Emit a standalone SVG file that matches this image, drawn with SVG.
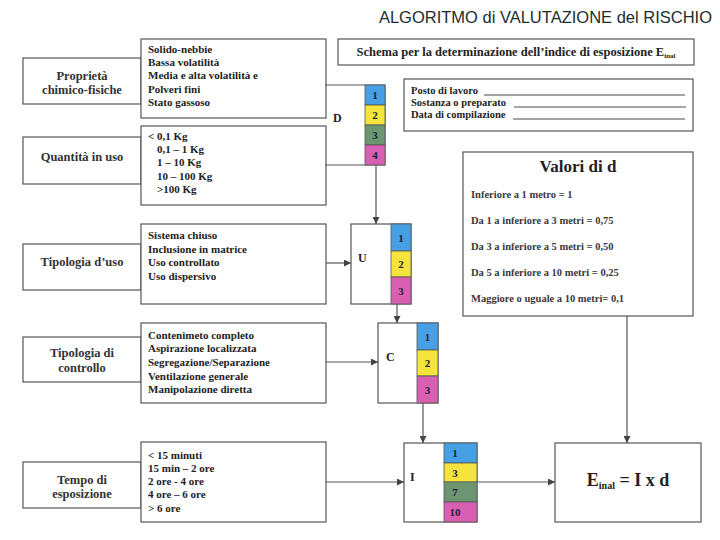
<svg xmlns="http://www.w3.org/2000/svg" width="720" height="540" viewBox="0 0 720 540">
<defs>
<marker id="arr" viewBox="0 0 10 10" refX="10" refY="5" markerWidth="7" markerHeight="7" markerUnits="userSpaceOnUse" orient="auto">
<path d="M0,0 L10,5 L0,10 z" fill="#444"/>
</marker>
<style>
.box{fill:#fff;stroke:#555;stroke-width:1.2}
.conn{stroke:#555;stroke-width:1.2;fill:none;marker-end:url(#arr)}
.t{font-family:"Liberation Serif","Times New Roman",serif;font-weight:bold;fill:#222}
.opt{font-size:11px}
.lab{font-size:12.5px;text-anchor:middle;fill:#333}
.val{font-size:10.5px;fill:#3a3a3a}
.num{font-size:11px;text-anchor:middle;fill:#223}
.blue{fill:#47a0e6;stroke:#555;stroke-width:0.8}
.yel{fill:#f4e43c;stroke:#555;stroke-width:0.8}
.grn{fill:#6c9672;stroke:#555;stroke-width:0.8}
.pnk{fill:#d85fb2;stroke:#555;stroke-width:0.8}
.ul{stroke:#333;stroke-width:0.9}
</style>
</defs>
<rect width="720" height="540" fill="#fff"/>
<text x="712" y="23" text-anchor="end" font-family="'Liberation Sans',Arial,sans-serif" font-size="16.5" fill="#1c2e2e">ALGORITMO di VALUTAZIONE del RISCHIO</text>

<g id="proprieta">
<rect class="box" x="23" y="58" width="118" height="46"/>
<text class="t lab" x="82" y="80">Proprietà</text>
<text class="t lab" x="82" y="94">chimico-fisiche</text>
<rect class="box" x="141" y="39" width="185" height="79"/>
<text class="t opt" x="148" y="53">Solido-nebbie</text>
<text class="t opt" x="148" y="66">Bassa volatilità</text>
<text class="t opt" x="148" y="79">Media e alta volatilità e</text>
<text class="t opt" x="148" y="93">Polveri fini</text>
<text class="t opt" x="148" y="106">Stato gassoso</text>
</g>

<g id="quantita">
<rect class="box" x="23" y="137" width="118" height="47"/>
<text class="t lab" x="82" y="161">Quantità in uso</text>
<rect class="box" x="141" y="126" width="185" height="79"/>
<text class="t opt" x="148" y="140">&lt; 0,1 Kg</text>
<text class="t opt" x="157" y="153">0,1 – 1 Kg</text>
<text class="t opt" x="157" y="166">1 – 10 Kg</text>
<text class="t opt" x="157" y="180">10 – 100 Kg</text>
<text class="t opt" x="157" y="193">&gt;100 Kg</text>
</g>

<g id="D">
<polyline points="325,85 385,85 385,165 325,165" fill="none" stroke="#555" stroke-width="1.2"/>
<text class="t" x="333" y="122" font-size="12">D</text>
<rect class="blue" x="365" y="85" width="20" height="20"/>
<rect class="yel" x="365" y="105" width="20" height="20"/>
<rect class="grn" x="365" y="125" width="20" height="20"/>
<rect class="pnk" x="365" y="145" width="20" height="20"/>
<text class="t num" x="375" y="99">1</text>
<text class="t num" x="375" y="119">2</text>
<text class="t num" x="375" y="139">3</text>
<text class="t num" x="375" y="159">4</text>
</g>

<g id="schema">
<rect class="box" x="338" y="39" width="356" height="26"/>
<text class="t" x="516" y="56" font-size="12.5" text-anchor="middle">Schema per la determinazione dell’indice di esposizione E<tspan font-size="7" dy="2">inal</tspan></text>
</g>

<g id="posto">
<rect class="box" x="404" y="79" width="289" height="52"/>
<text class="t" x="411" y="94" font-size="10.5">Posto di lavoro</text>
<text class="t" x="411" y="106" font-size="10.5">Sostanza o preparato</text>
<text class="t" x="411" y="118" font-size="10.5">Data di compilazione</text>
<line class="ul" x1="484" y1="95" x2="685" y2="95"/>
<line class="ul" x1="514" y1="107" x2="686" y2="107"/>
<line class="ul" x1="513" y1="119" x2="685" y2="119"/>
</g>

<g id="valori">
<rect class="box" x="463" y="152" width="230" height="164"/>
<text class="t" x="578" y="172" font-size="17" text-anchor="middle" fill="#333">Valori di d</text>
<text class="t val" x="471" y="198">Inferiore a 1 metro = 1</text>
<text class="t val" x="471" y="224">Da 1 a inferiore a 3 metri = 0,75</text>
<text class="t val" x="471" y="250">Da 3 a inferiore a 5 metri = 0,50</text>
<text class="t val" x="471" y="276">Da 5 a inferiore a 10 metri = 0,25</text>
<text class="t val" x="471" y="302">Maggiore o uguale a 10 metri= 0,1</text>
</g>

<g id="tipologia-uso">
<rect class="box" x="23" y="244" width="118" height="46"/>
<text class="t lab" x="82" y="266">Tipologia d’uso</text>
<rect class="box" x="141" y="224" width="185" height="80"/>
<text class="t opt" x="148" y="239">Sistema chiuso</text>
<text class="t opt" x="148" y="253">Inclusione in matrice</text>
<text class="t opt" x="148" y="266">Uso controllato</text>
<text class="t opt" x="148" y="280">Uso dispersivo</text>
</g>

<g id="U">
<rect class="box" x="351" y="224" width="60" height="80"/>
<text class="t" x="358" y="262" font-size="12">U</text>
<rect class="blue" x="391" y="224" width="20" height="27"/>
<rect class="yel" x="391" y="251" width="20" height="26"/>
<rect class="pnk" x="391" y="277" width="20" height="27"/>
<text class="t num" x="401" y="242">1</text>
<text class="t num" x="401" y="268">2</text>
<text class="t num" x="401" y="295">3</text>
</g>

<g id="tipologia-controllo">
<rect class="box" x="23" y="337" width="118" height="45"/>
<text class="t lab" x="82" y="357">Tipologia di</text>
<text class="t lab" x="82" y="372">controllo</text>
<rect class="box" x="141" y="323" width="185" height="80"/>
<text class="t opt" x="148" y="339">Contenimeto completo</text>
<text class="t opt" x="148" y="352">Aspirazione localizzata</text>
<text class="t opt" x="148" y="366">Segregazione/Separazione</text>
<text class="t opt" x="148" y="380">Ventilazione generale</text>
<text class="t opt" x="148" y="393">Manipolazione diretta</text>
</g>

<g id="C">
<rect class="box" x="378" y="323" width="60" height="80"/>
<text class="t" x="386" y="361" font-size="12">C</text>
<rect class="blue" x="417" y="323" width="21" height="27"/>
<rect class="yel" x="417" y="350" width="21" height="26"/>
<rect class="pnk" x="417" y="376" width="21" height="27"/>
<text class="t num" x="427.5" y="341">1</text>
<text class="t num" x="427.5" y="367">2</text>
<text class="t num" x="427.5" y="394">3</text>
</g>

<g id="tempo">
<rect class="box" x="23" y="462" width="118" height="46"/>
<text class="t lab" x="82" y="484">Tempo di</text>
<text class="t lab" x="82" y="498">esposizione</text>
<rect class="box" x="141" y="442" width="185" height="80"/>
<text class="t opt" x="148" y="459">&lt; 15 minuti</text>
<text class="t opt" x="148" y="472">15 min – 2 ore</text>
<text class="t opt" x="148" y="485">2 ore - 4 ore</text>
<text class="t opt" x="148" y="498">4 ore – 6 ore</text>
<text class="t opt" x="148" y="512">&gt; 6 ore</text>
</g>

<g id="I">
<rect class="box" x="404" y="443" width="73" height="79"/>
<text class="t" x="410" y="481" font-size="12">I</text>
<rect class="blue" x="444" y="443" width="33" height="20"/>
<rect class="yel" x="444" y="463" width="33" height="19"/>
<rect class="grn" x="444" y="482" width="33" height="20"/>
<rect class="pnk" x="444" y="502" width="33" height="20"/>
<text class="t num" x="455" y="457">1</text>
<text class="t num" x="455" y="477">3</text>
<text class="t num" x="455" y="496">7</text>
<text class="t num" x="455" y="516">10</text>
</g>

<g id="E">
<rect class="box" x="555" y="443" width="146" height="79"/>
<text class="t" x="628" y="486" font-size="18" text-anchor="middle" fill="#333">E<tspan font-size="10" dy="3">inal</tspan><tspan dy="-3"> = I x d</tspan></text>
</g>

<g id="connectors">
<line class="conn" x1="376" y1="165" x2="376" y2="224"/>
<line class="conn" x1="326" y1="263" x2="351" y2="263"/>
<line class="conn" x1="397" y1="304" x2="397" y2="323"/>
<line class="conn" x1="326" y1="362" x2="378" y2="362"/>
<line class="conn" x1="423" y1="403" x2="423" y2="443"/>
<line class="conn" x1="326" y1="482" x2="404" y2="482"/>
<line class="conn" x1="477" y1="482" x2="555" y2="482"/>
<line class="conn" x1="627" y1="316" x2="627" y2="443"/>
</g>
</svg>
